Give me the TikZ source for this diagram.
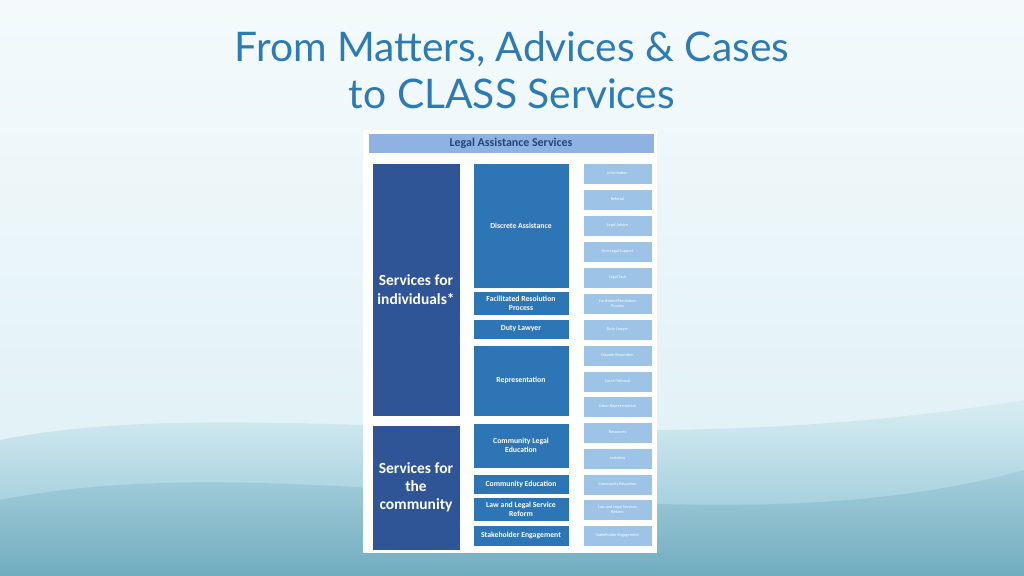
\documentclass[tikz,border=0pt]{standalone}
\usepackage{fontspec}
\setmainfont{Lato}
\newfontfamily\boxfont{Carlito}
\definecolor{titleblue}{HTML}{2E7BB4}
\definecolor{darkbox}{HTML}{2F5597}
\definecolor{midbox}{HTML}{2E75B6}
\definecolor{lightbox}{HTML}{9DC3E6}
\definecolor{headbar}{HTML}{8FB3E0}
\definecolor{seatop}{HTML}{F4FAFC}
\definecolor{seamid}{HTML}{DCEFF4}
\definecolor{wave}{HTML}{6FB3C8}
\tikzset{
  cell/.style={draw=white, line width=0.6pt, text=white, align=center, font=\boxfont\bfseries},
  bigcell/.style={cell, fill=darkbox, font=\boxfont\bfseries\fontsize{11}{13}\selectfont},
  midcell/.style={cell, fill=midbox, font=\boxfont\bfseries\fontsize{5.5}{6.5}\selectfont},
  smallcell/.style={cell, fill=lightbox, font=\boxfont\fontsize{3}{3.6}\selectfont},
}
\begin{document}
\begin{tikzpicture}[x=0.025cm,y=-0.025cm]
    \useasboundingbox (0,0) rectangle (1024,576);

        % background
        \shade[top color=seatop, bottom color=seamid] (0,0) rectangle (1024,576);
        \shade[top color=seamid, bottom color=wave, opacity=0.8]
            (0,440) .. controls (250,390) and (600,470) .. (1024,400) -- (1024,576) -- (0,576) -- cycle;
        \shade[top color=wave!60, bottom color=wave!90!black, opacity=0.6]
            (0,500) .. controls (300,440) and (700,560) .. (1024,470) -- (1024,576) -- (0,576) -- cycle;

        \node[text=titleblue, align=center, font=\fontsize{29}{33}\selectfont] (title) at (512,70)
            {From Matters, Advices \& Cases\\to CLASS Services};

        % panel
        \fill[white] (363,130) rectangle (657,553);
        \node[cell, fill=headbar, text=darkbox!80!black, minimum width=286*0.025cm, minimum height=20*0.025cm,
              font=\boxfont\bfseries\fontsize{8.5}{10}\selectfont] (head) at (511,143) {Legal Assistance Services};

        % left column
        \node[bigcell, minimum width=88*0.025cm, minimum height=253*0.025cm] (indiv) at (416,289.5) {Services for\\individuals*};
        \node[bigcell, minimum width=88*0.025cm, minimum height=125*0.025cm] (comm) at (416,487.5) {Services for\\the\\community};

        % middle column
        \foreach \name/\ya/\yb/\txt in {
            discrete/163/288/{Discrete Assistance},
            facil/293/314/{Facilitated Resolution\\Process},
            duty/319/339/{Duty Lawyer},
            repr/345/416/{Representation},
            cle/423/468/{Community Legal\\Education},
            educ/474/494/{Community Education},
            reform/499/520/{Law and Legal Service\\Reform},
            stake/525/546/{Stakeholder Engagement}} {
            \node[midcell, minimum width=96*0.025cm, minimum height={(\yb-\ya)*0.025cm}] (\name) at (521,{(\ya+\yb)/2}) {\txt};
        }

        % right column
        \foreach \name/\ya/\txt in {
            info/163/Information, refer/189/Referral, advice/215/Legal Advice,
            nonlegal/241/Non-Legal Support, task/267/Legal Task,
            facilr/293/{Facilitated Resolution\\Process}, dutyr/319/Duty Lawyer,
            dispute/345/Dispute Resolution, court/371/{Court/Tribunal},
            other/396/Other Representation, res/422/Resources, act/448/Activities,
            educr/474/Community Education, reformr/499/{Law and Legal Services\\Reform},
            staker/525/Stakeholder Engagement} {
            \node[smallcell, minimum width=69*0.025cm, minimum height=21*0.025cm] (\name) at (617.5,\ya+10.5) {\txt};
        }

    \end{tikzpicture}
\end{document}
